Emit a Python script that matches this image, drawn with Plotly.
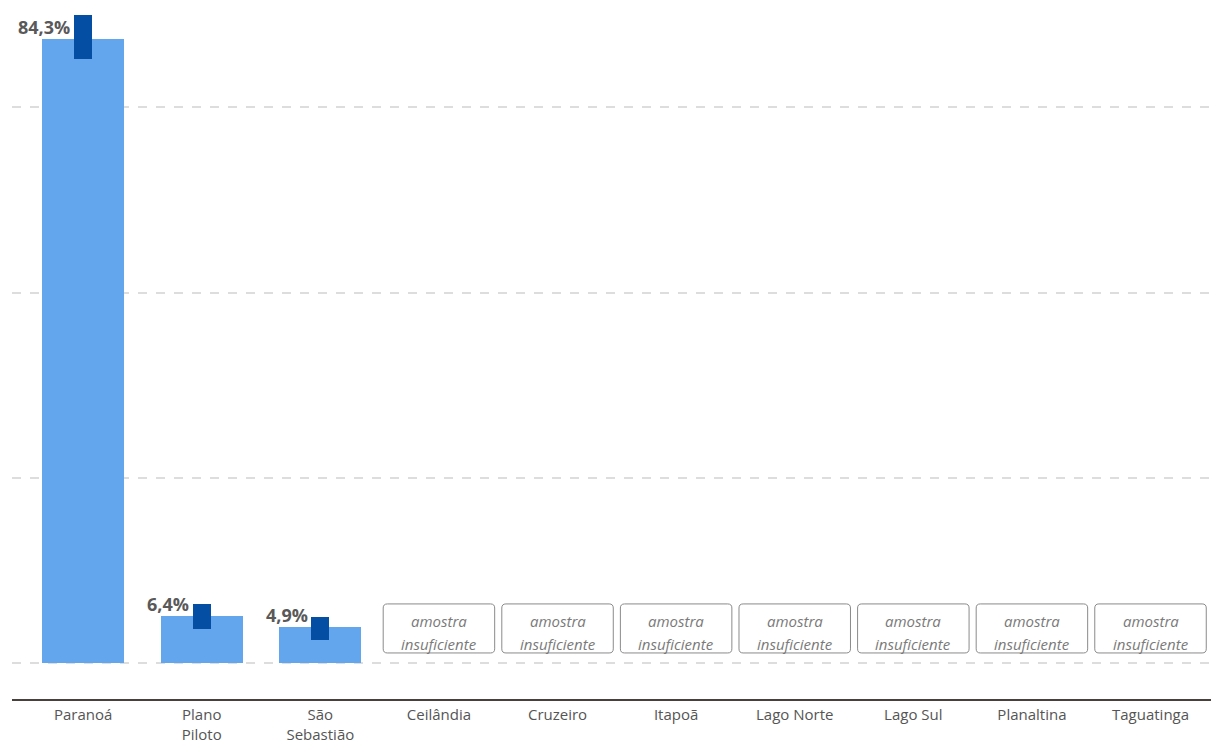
import plotly.graph_objects as go

categories = ["Paranoá", "Plano<br>Piloto", "São<br>Sebastião", "Ceilândia", "Cruzeiro",
              "Itapoã", "Lago Norte", "Lago Sul", "Planaltina", "Taguatinga"]
values = [84.3, 6.4, 4.9, None, None, None, None, None, None, None]
ci_low = [81.5, 4.55, 3.1, None, None, None, None, None, None, None]
ci_high = [87.5, 7.9, 6.2, None, None, None, None, None, None, None]
value_labels = ["84,3%", "6,4%", "4,9%"]
insufficient_lines = ["amostra", "insuficiente"]

xs = list(range(len(categories)))
FONT = "Open Sans"

fig = go.Figure()
fig.add_trace(go.Bar(x=xs, y=values, width=0.69, marker=dict(color="#64a6ee", line=dict(width=0)),
                     hoverinfo="skip"))
ci_x, ci_base, ci_len = [], [], []
for i, (lo, hi) in enumerate(zip(ci_low, ci_high)):
    if lo is not None:
        ci_x.append(i); ci_base.append(lo); ci_len.append(hi - lo)
fig.add_trace(go.Bar(x=ci_x, y=ci_len, base=ci_base, width=0.15,
                     marker=dict(color="#044ea3", line=dict(width=0)), hoverinfo="skip"))

annotations = []
shapes = []
for i, v in enumerate(values):
    if v is not None:
        annotations.append(dict(x=i - 0.09, y=v, xref="x", yref="y", text="<b>%s</b>" % value_labels[i],
                                showarrow=False, xanchor="right", yanchor="bottom", yshift=-2,
                                font=dict(family=FONT, size=18, color="#595959")))
    else:
        x0, x1 = i - 0.47, i + 0.47
        y0, y1 = 1.35, 7.97
        rx, ry = 0.035, 0.55
        path = (f"M {x0+rx},{y0} L {x1-rx},{y0} Q {x1},{y0} {x1},{y0+ry} "
                f"L {x1},{y1-ry} Q {x1},{y1} {x1-rx},{y1} L {x0+rx},{y1} "
                f"Q {x0},{y1} {x0},{y1-ry} L {x0},{y0+ry} Q {x0},{y0} {x0+rx},{y0} Z")
        shapes.append(dict(type="path", path=path, xref="x", yref="y",
                           line=dict(color="#8a8a8a", width=1), fillcolor="white", layer="above"))
        for txt, yy in zip(insufficient_lines, [5.67, 2.56]):
            annotations.append(dict(x=i, y=yy, xref="x", yref="y",
                                    text="<i>%s</i>" % txt, showarrow=False,
                                    xanchor="center", yanchor="middle",
                                    font=dict(family=FONT, size=15, color="#7a7a7a")))

# axis line at bottom
shapes.append(dict(type="line", xref="paper", yref="paper", x0=0, x1=1, y0=0, y1=0,
                   line=dict(color="#4a403b", width=2)))

fig.update_layout(
    width=1211, height=745,
    margin=dict(l=12, r=0, t=0, b=45),
    plot_bgcolor="white", paper_bgcolor="white",
    barmode="overlay", bargap=0, showlegend=False,
    annotations=annotations, shapes=shapes,
    xaxis=dict(range=[-0.6, 9.51], tickvals=xs, ticktext=categories, showgrid=False,
               zeroline=False, showline=False, ticks="", automargin=False,
               ticklabelstandoff=4,
               tickfont=dict(family=FONT, size=15, color="#555555")),
    yaxis=dict(range=[-5, 89.5], tickvals=[0, 25, 50, 75], showticklabels=False,
               showgrid=True, gridcolor="#dddddd", gridwidth=2, griddash="dash",
               zeroline=False, showline=False, automargin=False),
)
fig.write_html("out.html", config={"displayModeBar": False},
               post_script="document.body.style.margin='0';document.body.style.overflow='hidden';")
